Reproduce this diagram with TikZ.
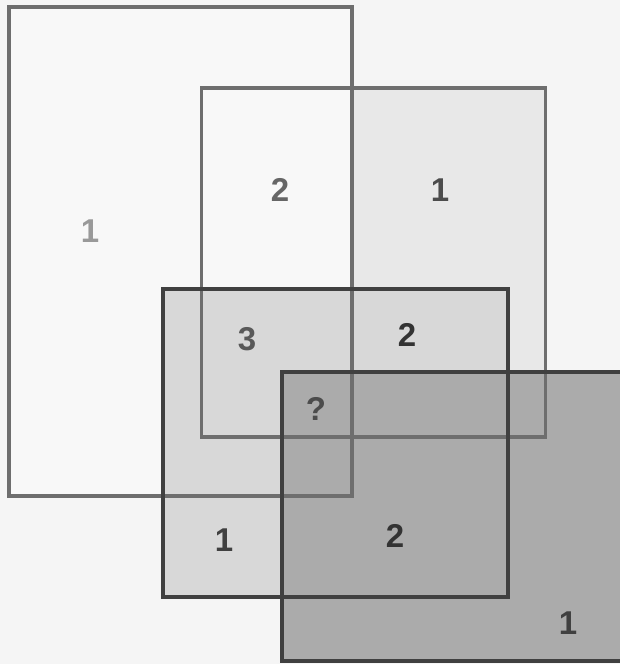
\documentclass[tikz,border=0pt]{standalone}
\usepackage{fontspec}
\setmainfont{Liberation Sans}
\definecolor{bgc}{HTML}{F5F5F5}
\definecolor{fa}{HTML}{F8F8F8}
\definecolor{fb}{HTML}{E8E8E8}
\definecolor{fc}{HTML}{D8D8D8}
\definecolor{fd}{HTML}{ABABAB}
\definecolor{la}{HTML}{6E6E6E}
\definecolor{lc}{HTML}{404040}
\tikzset{
  x=1pt, y=-1pt,
  area/.style={rectangle, inner sep=0pt, outer sep=0pt, draw=none},
  edgeA/.style={draw=la, line width=3.5pt},
  edgeC/.style={draw=lc, line width=4pt},
  num/.style={font=\fontsize{33}{33}\selectfont\bfseries, inner sep=0pt},
}
\begin{document}
\begin{tikzpicture}
\useasboundingbox (0,0) rectangle (620,664);
\clip (0,0) rectangle (620,664);
\fill[bgc] (0,0) rectangle (620,664);
% areas (fills)
\node (B) [area, fill=fb, minimum width=344pt, minimum height=349pt] at (373.5,262.5) {};
\node (A) [area, fill=fa, minimum width=343pt, minimum height=489pt] at (180.5,251.5) {};
\node (C) [area, fill=fc, minimum width=345pt, minimum height=308pt] at (335.5,443) {};
\node (D) [area, fill=fd, minimum width=360pt, minimum height=289pt] at (461.5,516.5) {};
% outlines
\draw[edgeA] (A.north west) rectangle (A.south east);
\draw[edgeA] (B.north west) rectangle (B.south east);
\draw[edgeC] (C.north west) rectangle (C.south east);
\draw[edgeC] (D.north west) rectangle (D.south east);
% labels
\node (t1) [num, text=black!40] at (90,231) {1};
\node (t2) [num, text=black!60] at (280,190) {2};
\node (t3) [num, text=black!70] at (440,190) {1};
\node (t4) [num, text=black!65] at (247,339) {3};
\node (t5) [num, text=black!80] at (407,335) {2};
\node (t6) [num, text=black!70] at (316,409) {?};
\node (t7) [num, text=black!75] at (224,540) {1};
\node (t8) [num, text=black!80] at (395,536) {2};
\node (t9) [num, text=black!75] at (568,623) {1};
\end{tikzpicture}
\end{document}
